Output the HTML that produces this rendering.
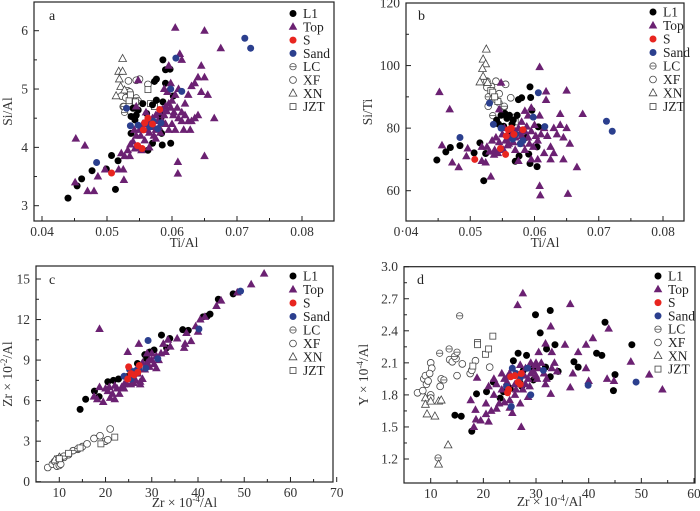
<!DOCTYPE html>
<html><head><meta charset="utf-8"><style>
html,body{margin:0;padding:0;background:#fff;}
svg{display:block;font-family:"Liberation Serif",serif;}
</style></head><body>
<svg id="chart" width="700" height="511" viewBox="0 0 700 511" xmlns="http://www.w3.org/2000/svg"></svg>
<script>
// ---------- Panel a: Si/Al vs Ti/Al ----------
const aL1=[[0.0440,3.13],[0.0454,3.34],[0.0461,3.46],[0.0477,3.60],[0.0499,3.63],[0.0513,3.28],[0.0507,3.86],[0.0517,3.77],[0.0537,4.53],[0.0543,4.47],[0.0545,4.55],[0.0540,4.67],[0.0555,4.75],[0.0548,4.64],[0.0561,4.58],[0.0570,4.73],[0.0573,5.13],[0.0576,5.17],[0.0576,4.81],[0.0586,5.50],[0.0590,5.33],[0.0590,5.10],[0.0586,4.78],[0.0581,4.58],[0.0583,4.50],[0.0584,4.24],[0.0570,4.07],[0.0563,3.95],[0.0585,4.04],[0.0598,4.07],[0.0597,5.34],[0.0602,4.88],[0.0558,4.42],[0.0537,4.24]];
const aTop=[[0.0452,4.15],[0.0466,4.03],[0.0451,3.40],[0.047,3.25],[0.048,3.25],[0.0486,3.5],[0.0497,3.62],[0.0518,3.62],[0.0525,3.62],[0.0526,3.44],[0.0527,3.85],[0.0522,3.9],[0.0532,3.95],[0.0536,4.05],[0.054,4.1],[0.0545,4.2],[0.055,4.3],[0.0555,4.35],[0.056,4.4],[0.0565,4.45],[0.057,4.5],[0.0575,4.55],[0.058,4.6],[0.0585,4.65],[0.059,4.7],[0.0595,4.75],[0.06,4.8],[0.0605,4.9],[0.061,5.0],[0.0548,4.0],[0.0553,3.95],[0.0565,4.25],[0.0575,4.3],[0.058,4.35],[0.0585,4.45],[0.059,4.4],[0.0595,4.3],[0.06,4.4],[0.0605,4.3],[0.061,4.5],[0.0615,4.45],[0.062,4.55],[0.0625,4.45],[0.063,4.45],[0.0635,4.5],[0.064,4.55],[0.0615,4.6],[0.062,4.75],[0.0625,4.9],[0.063,5.05],[0.0635,5.1],[0.064,5.2],[0.0645,4.95],[0.065,5.2],[0.0655,4.9],[0.0645,5.4],[0.0615,5.5],[0.0612,5.6],[0.0605,6.05],[0.065,6.0],[0.0675,5.7],[0.0665,4.5],[0.065,3.85],[0.0609,3.75],[0.0609,3.55],[0.0595,5.4],[0.0598,5.1],[0.0593,4.95],[0.0588,5.0],[0.0603,4.6],[0.0575,4.15],[0.0565,4.0],[0.057,4.35],[0.0555,4.4],[0.056,4.6],[0.0545,4.7],[0.0548,5.15],[0.0535,3.85],[0.0542,4.3],[0.0618,4.3],[0.0628,4.3],[0.0562,4.3],[0.0568,4.38],[0.0578,4.45],[0.0588,4.55],[0.0592,4.62],[0.0598,4.68],[0.0552,4.2],[0.0558,4.12],[0.0572,4.2],[0.0582,4.25],[0.0543,3.98],[0.0608,4.68],[0.0602,4.55]];
const aS=[[0.0507,3.56],[0.0547,4.03],[0.0554,3.98],[0.0556,4.3],[0.0558,4.42],[0.0563,4.5],[0.0581,4.65],[0.057,4.4]];
const aSand=[[0.0484,3.74],[0.0536,4.37],[0.0548,4.38],[0.0566,4.35],[0.0571,4.45],[0.0578,4.32],[0.0583,4.42],[0.0598,5.0],[0.0606,5.53],[0.0615,4.96],[0.0712,5.87],[0.0721,5.7],[0.053,4.67]];
const aLC=[[0.0526,4.7],[0.0534,4.75],[0.0538,4.85],[0.0545,4.85],[0.0548,4.8],[0.0527,4.6]];
const aXF=[[0.0522,4.88],[0.0532,4.97],[0.0535,4.95],[0.0525,4.7],[0.0533,5.14],[0.055,5.17],[0.0545,5.15],[0.0537,4.6],[0.0538,4.8],[0.0563,5.08],[0.0529,4.85]];
const aXN=[[0.0524,5.52],[0.0518,5.3],[0.0524,5.3],[0.0519,5.17],[0.0521,5.04],[0.0514,4.88],[0.0527,4.98],[0.0535,4.8]];
const aJZT=[[0.0534,4.8],[0.0544,4.78],[0.0567,4.75],[0.0563,4.99],[0.0573,4.7],[0.0536,4.9]];
const aXTicks=[0.04,0.05,0.06,0.07,0.08];
const aXTickLabels=["0.04","0.05","0.06","0.07","0.08"];
const aYTicks=[3,4,5,6];

// ---------- Panel b: Si/Ti vs Ti/Al ----------
const bL1=[[0.0448,69.8],[0.0462,72.4],[0.0469,73.8],[0.0484,74.4],[0.0506,72.1],[0.0521,63.2],[0.0515,75.3],[0.0524,71.9],[0.0541,82.6],[0.0544,81.3],[0.0548,84.1],[0.0554,84.7],[0.0557,83.1],[0.0561,84.1],[0.0565,81.3],[0.0567,82.6],[0.0575,89.1],[0.0580,89.7],[0.0593,93.2],[0.0594,89.8],[0.0596,85.7],[0.0587,77.0],[0.0591,71.7],[0.0570,69.4],[0.0576,71.1],[0.0593,68.7],[0.0604,67.7],[0.0604,74.0],[0.0606,80.4],[0.0562,78.3],[0.0552,80.6],[0.0573,84.1]];
const bTop=[[0.0452,91.5],[0.0468,86],[0.0456,74.5],[0.0472,69],[0.0482,67.5],[0.0496,73.5],[0.0494,71],[0.0518,69.5],[0.0524,69],[0.0532,64.5],[0.0526,74],[0.0518,74],[0.053,72.5],[0.0534,76],[0.0538,73],[0.054,77],[0.0545,75.5],[0.055,78],[0.0553,80],[0.0555,76],[0.056,77],[0.0565,78],[0.057,79],[0.0575,80],[0.058,82],[0.0585,85.5],[0.059,84],[0.0595,86.5],[0.0548,94.5],[0.0545,86],[0.056,75],[0.057,73],[0.0575,69.5],[0.058,75],[0.0585,73],[0.059,77],[0.0595,79],[0.06,81],[0.0605,76],[0.061,78],[0.0615,80],[0.062,77.5],[0.0625,74],[0.063,72],[0.0635,78],[0.064,81],[0.0645,77],[0.065,80],[0.0655,75],[0.064,84.5],[0.0608,99.5],[0.0618,91.7],[0.0618,89],[0.065,92],[0.0675,84.5],[0.0666,67.5],[0.0652,59],[0.0609,58.5],[0.0608,61.5],[0.0625,70],[0.0645,70],[0.0605,70],[0.0615,72],[0.0595,70],[0.0608,84],[0.063,80],[0.0585,79],[0.058,77.5],[0.057,77],[0.0562,79.5],[0.0552,73],[0.0558,74.5],[0.0567,75.5],[0.0578,78.5],[0.0588,80.5],[0.0592,75],[0.0598,74],[0.0543,72],[0.0537,71.5],[0.0602,77.5]];
const bS=[[0.0507,70],[0.0547,73.5],[0.0555,71.6],[0.0556,77.5],[0.0559,79.5],[0.0564,80],[0.0582,79.5],[0.0568,78]];
const bSand=[[0.0484,77],[0.0536,81.2],[0.0548,80],[0.0566,76.5],[0.0571,78],[0.0578,75],[0.0582,76],[0.0598,83.5],[0.0606,91.3],[0.0616,80.5],[0.0712,82.2],[0.0721,79],[0.053,88]];
const bLC=[[0.0535,84],[0.054,89],[0.0545,88],[0.0528,90],[0.0553,87]];
const bXF=[[0.0526,95],[0.0533,93.3],[0.054,95],[0.0555,94],[0.0526,93],[0.0528,87],[0.0553,86.8],[0.0563,89.7],[0.0545,91]];
const bXN=[[0.0525,105.2],[0.052,102],[0.0524,100.5],[0.0519,99],[0.052,96.5],[0.0515,94.7],[0.0527,94.5],[0.0535,90]];
const bJZT=[[0.0532,92],[0.0535,91.5],[0.0543,88.5],[0.0565,83.5],[0.057,82],[0.0538,90]];
const bXTicks=[0.04,0.05,0.06,0.07,0.08];
const bXTickLabels=["0·04","0.05","0.06","0.07","0.08"];
const bYTicks=[60,80,100,120];

// ---------- Panel c: Zr×10^-2/Al vs Zr×10^-4/Al ----------
const cL1=[[14.5,5.35],[15.7,6.1],[17.6,6.7],[18.6,6.3],[20.5,7.4],[21.7,7.5],[22.8,7.6],[24.9,7.8],[26.9,8.75],[28.9,9.1],[30.5,9.75],[32.1,10.85],[33.2,9.9],[33.9,10.6],[36.7,11.25],[37.9,11.2],[41.1,12.2],[42,12.25],[42.6,12.4],[44.4,13.5],[47.6,13.9],[28.5,9.4],[29.6,9.6]];
const cTop=[[17.5,6.3],[18.2,6.1],[18.7,7.0],[19.5,5.9],[20.5,6.7],[20.8,7.0],[21.5,6.5],[22.0,6.1],[22.5,6.9],[23.0,6.5],[23.5,7.0],[24.0,6.9],[24.5,7.3],[25.0,7.6],[25.5,7.2],[26.0,7.8],[26.5,7.5],[27.0,8.0],[27.5,7.4],[28.0,7.6],[28.5,8.3],[29.0,8.8],[29.5,8.5],[30.0,9.0],[30.5,8.7],[31.0,9.3],[31.5,9.0],[32.0,9.5],[32.5,10.2],[33.0,9.6],[33.5,10.5],[34.0,10.0],[35.5,10.6],[37.0,9.9],[37.2,10.2],[37.5,11.0],[38.5,10.4],[39.5,11.5],[40.0,11.1],[40.5,12.0],[41.5,12.2],[44.0,13.0],[45.0,13.4],[48.5,14.0],[51.5,14.6],[54.3,15.4],[18.7,11.3],[24.8,9.6],[27.2,10.2],[20.0,6.9],[26.5,8.2],[28.0,8.8],[29.0,9.5],[31.0,8.4],[30.0,9.5],[27.0,8.5],[24.0,7.2],[22.0,7.1],[21.0,6.2],[26.0,7.3],[27.5,7.2],[29.5,9.0]];
const cS=[[25.0,8.5],[25.5,8.0],[26.2,7.9],[27.0,8.1],[27.3,8.6],[24.8,7.6]];
const cSand=[[24.0,7.8],[25.2,8.3],[25.5,7.6],[26.5,8.2],[27.2,8.3],[28.7,8.4],[29.2,10.45],[31.3,9.1],[40.2,11.3],[49.2,14.1]];
const cLC=[[9.5,1.7],[11,1.9],[13,2.3],[14,2.45]];
const cXF=[[7.5,1.05],[8.5,1.3],[9,1.5],[9.5,1.15],[10,1.2],[10.3,1.3],[10.5,1.8],[11,1.8],[12,2.0],[13,2.3],[14,2.4],[15,2.6],[16,2.8],[17.5,3.2],[18.8,3.4],[20,3.0],[21,3.9],[20.5,3.1]];
const cXN=[[9,1.6],[10,1.8]];
const cJZT=[[19,2.8],[22,3.3],[14.5,2.5],[10,1.7],[12,2.1]];
const cXTicks=[10,20,30,40,50,60,70];
const cYTicks=[0,3,6,9,12,15];

// ---------- Panel d: Y×10^-4/Al vs Zr×10^-4/Al ----------
const dL1=[[29.9,2.55],[32.7,2.59],[30.8,2.38],[33.6,2.27],[32.0,2.23],[26.6,2.19],[25.7,2.12],[28.2,2.17],[27.6,2.03],[29.5,2.05],[31.8,2.06],[32.7,1.97],[34.2,2.02],[29.5,1.94],[27.0,1.91],[27.3,1.88],[25.1,1.86],[23.8,1.83],[21.9,1.92],[23.2,1.77],[20.6,1.83],[18.7,1.81],[14.6,1.61],[15.8,1.60],[17.8,1.46],[37.2,2.11],[38.0,2.06],[43.1,2.48],[41.5,2.19],[42.5,2.17],[48.2,2.27],[45.0,1.99],[44.7,1.84]];
const dTop=[[26.5,2.64],[27.5,2.75],[36.5,2.65],[32.8,2.44],[43.8,2.42],[40.8,2.33],[39.5,2.27],[38.0,2.2],[35.5,2.27],[31.8,2.28],[33.0,2.2],[30.5,2.2],[48.0,2.11],[51.5,1.99],[54.0,1.85],[43.5,1.95],[44.8,1.93],[40.0,1.93],[37.0,2.0],[36.5,1.87],[39.5,2.05],[32.8,1.81],[31.8,1.9],[27.2,1.5],[17.6,1.75],[18.2,1.5],[18.6,1.57],[18.5,1.66],[19.5,1.56],[21.0,1.55],[18.8,1.96],[20.5,1.72],[21.5,1.65],[22.0,1.8],[22.5,1.67],[23.0,1.72],[24.0,1.73],[25.0,1.75],[25.5,1.63],[26.0,1.8],[27.0,1.72],[27.5,1.85],[28.0,1.9],[28.5,1.95],[29.0,2.0],[29.5,2.02],[30.0,1.98],[30.5,2.05],[31.0,2.1],[31.5,2.0],[32.0,1.95],[33.0,2.05],[34.0,2.02],[22.5,1.9],[23.5,1.85],[24.5,1.92],[25.0,2.0],[25.5,2.05],[26.5,1.98],[27.0,2.08],[28.0,2.05],[29.0,2.1],[30.0,2.1],[22.0,1.95],[21.0,1.88],[24.0,1.95],[26.0,1.9],[28.5,1.78],[23.5,2.0],[25.0,1.68],[20.5,1.62],[33.5,2.1],[26.2,1.85],[27.8,1.98],[28.8,1.88],[30.2,1.95],[29.8,2.08],[24.6,1.97]];
const dS=[[24.6,1.82],[24.8,1.85],[25.2,1.97],[26.0,1.98],[26.6,1.92],[27.0,1.9],[27.2,2.0]];
const dSand=[[24.4,1.88],[25.3,1.69],[25.5,2.05],[26.2,2.0],[27.0,1.96],[28.4,2.05],[29.0,1.8],[31.4,2.03],[39.9,1.89],[49.0,1.92]];
const dLC=[[15.5,2.54],[11.4,1.21],[13.5,2.23],[11.7,2.19],[14.5,2.16],[15,2.2],[12.5,1.94]];
const dXF=[[7.5,1.82],[8.5,1.84],[8.7,1.95],[9.0,1.98],[9.2,1.9],[9.5,1.93],[10.0,2.1],[10.2,2.05],[10.0,1.8],[9.8,2.0],[11.8,1.88],[12.0,1.95],[13.6,2.13],[14.1,2.11],[14.8,2.14],[15.0,1.98],[16.0,2.09],[17.5,2.0],[17.8,2.03],[18.5,2.12],[21.2,2.06],[10.0,1.77]];
const dXN=[[9.0,1.77],[9.0,1.71],[9.3,1.62],[10.8,1.6],[11.5,1.74],[12.0,1.75],[13.3,1.33],[11.5,1.15],[10.0,1.74]];
const dJZT=[[18.9,2.29],[18.9,2.27],[20.4,2.18],[21.0,2.23],[21.8,2.35],[18.0,2.07]];
const dXTicks=[10,20,30,40,50,60];
const dYTicks=[1.2,1.5,1.8,2.1,2.4,2.7,3.0];
const dYTickLabels=["1.2","1.5","1.8","2.1","2.4","2.7","3.0"];

const legendLabels=["L1","Top","S","Sand","LC","XF","XN","JZT"];

const NS="http://www.w3.org/2000/svg";
const svg=document.getElementById('chart');
function mk(tag,attrs,parent){const e=document.createElementNS(NS,tag);for(const k in attrs)e.setAttribute(k,attrs[k]);(parent||svg).appendChild(e);return e;}
function lin(v0,p0,v1,p1){return v=>p0+(v-v0)*(p1-p0)/(v1-v0);}
const COL={L1:"#000",Top:"#6b2172",S:"#e8251f",Sand:"#2b3f8e"};

function marker(g,type,cx,cy){
  let e;
  if(type==="L1"||type==="S"||type==="Sand"){e=mk('circle',{cx:cx,cy:cy,r:3.5,fill:COL[type]},g);}
  else if(type==="Top"){e=mk('polygon',{points:`${cx},${cy-4.6} ${cx-4.3},${cy+3} ${cx+4.3},${cy+3}`,fill:COL.Top},g);}
  else if(type==="LC"){e=mk('g',{},g);mk('circle',{cx:cx,cy:cy,r:3.2,fill:"#fff",stroke:"#555","stroke-width":0.8},e);mk('line',{x1:cx-3.2,y1:cy,x2:cx+3.2,y2:cy,stroke:"#555","stroke-width":0.8},e);}
  else if(type==="XF"){e=mk('circle',{cx:cx,cy:cy,r:3.4,fill:"#fff",stroke:"#444","stroke-width":0.8},g);}
  else if(type==="XN"){e=mk('polygon',{points:`${cx},${cy-4.3} ${cx-3.9},${cy+2.8} ${cx+3.9},${cy+2.8}`,fill:"#fff",stroke:"#444","stroke-width":0.8},g);}
  else {e=mk('rect',{x:cx-3,y:cy-3,width:6,height:6,fill:"#fff",stroke:"#444","stroke-width":0.8},g);}
  return e;
}

function panel(p){
  const g=mk('g',{});
  
  
  const X=lin(p.xa[0],p.xa[1],p.xa[2],p.xa[3]);
  const Y=lin(p.ya[0],p.ya[1],p.ya[2],p.ya[3]);
  const f=p.frame;
  const box=mk('rect',{x:f.l,y:f.t,width:f.r-f.l,height:f.b-f.t,fill:"none",stroke:"#222","stroke-width":1.2},g);
  
  
  p.xt.forEach((v,i)=>{
    const x=X(v);
    mk('line',{x1:x,y1:f.b,x2:x,y2:f.b-5,stroke:"#222","stroke-width":1},g);
    const t=mk('text',{x:x,y:f.b+15,"text-anchor":"middle","font-size":13.5,fill:"#333"},g);
    t.textContent=p.xl?p.xl[i]:String(v);
    
    
    if(i<p.xt.length-1){const xm=X((v+p.xt[i+1])/2);mk('line',{x1:xm,y1:f.b,x2:xm,y2:f.b-3,stroke:"#222","stroke-width":1},g);}
  });
  p.yt.forEach((v,i)=>{
    const y=Y(v);
    mk('line',{x1:f.l,y1:y,x2:f.l+5,y2:y,stroke:"#222","stroke-width":1},g);
    const t=mk('text',{x:f.l-6,y:y+4.5,"text-anchor":"end","font-size":13.5,fill:"#333"},g);
    t.textContent=p.yl?p.yl[i]:String(v);
    
    
    if(i<p.yt.length-1){const ym=Y((v+p.yt[i+1])/2);mk('line',{x1:f.l,y1:ym,x2:f.l+3,y2:ym,stroke:"#222","stroke-width":1},g);}
  });
  const xt=mk('text',{x:(f.l+f.r)/2,y:p.xty,"text-anchor":"middle","font-size":13.5,fill:"#333"},g);
  xt.innerHTML=p.xtitle;
  
  
  const yt=mk('text',{x:0,y:0,"text-anchor":"middle","font-size":13.5,fill:"#333",transform:`translate(${p.ytx},${(f.t+f.b)/2}) rotate(-90)`},g);
  yt.innerHTML=p.ytitle;
  
  
  const lt=mk('text',{x:p.letter[1],y:p.letter[2],"font-size":14,fill:"#222"},g);
  lt.textContent=p.letter[0];
  
  
  const order=[["XF",p.XF],["LC",p.LC],["XN",p.XN],["JZT",p.JZT],["L1",p.L1],["Top",p.Top],["Sand",p.Sand],["S",p.S]];
  order.forEach(([name,arr])=>{
    const sg=mk('g',{},g);
    
    
    arr.forEach(d=>{
      const m=marker(sg,name,X(d[0]),Y(d[1]));
      
      
    });
  });
  const lg=mk('g',{},g);
  
  
  legendLabels.forEach((lab,i)=>{
    const y=p.leg[1]+i*p.leg[2];
    const eg=mk('g',{},lg);
    
    
    marker(eg,lab,p.leg[0],y);
    const t=mk('text',{x:p.leg[0]+10,y:y+4.5,"font-size":13.5,fill:"#222"},eg);
    t.textContent=lab;
  });
}

panel({id:'a',frame:{l:34,t:2,r:334,b:221},xa:[0.04,42,0.08,302],ya:[3,205.7,6,30.7],
  xt:aXTicks,xl:aXTickLabels,yt:aYTicks,xtitle:"Ti/Al",xty:247,ytitle:"Si/Al",ytx:12,letter:['a',49,20],
  leg:[293,13.5,13.3],L1:aL1,Top:aTop,S:aS,Sand:aSand,LC:aLC,XF:aXF,XN:aXN,JZT:aJZT});
panel({id:'b',frame:{l:406,t:3,r:684,b:221},xa:[0.04,406,0.08,663],ya:[60,190.7,120,3],
  xt:bXTicks,xl:bXTickLabels,yt:bYTicks,xtitle:"Ti/Al",xty:247,ytitle:"Si/Ti",ytx:372,letter:['b',418,20],
  leg:[653,12,13.5],L1:bL1,Top:bTop,S:bS,Sand:bSand,LC:bLC,XF:bXF,XN:bXN,JZT:bJZT});
panel({id:'c',frame:{l:36,t:266,r:333,b:482},xa:[10,59.3,70,336.7],ya:[0,481.7,15,279],
  xt:cXTicks,yt:cYTicks,xtitle:"Zr × 10<tspan dy='-5' font-size='9'>-4</tspan><tspan dy='5'>/Al</tspan>",xty:507,
  ytitle:"Zr × 10<tspan dy='-5' font-size='9'>-2</tspan><tspan dy='5'>/Al</tspan>",ytx:12,letter:['c',49,284],
  leg:[293,276,13.5],L1:cL1,Top:cTop,S:cS,Sand:cSand,LC:cLC,XF:cXF,XN:cXN,JZT:cJZT});
panel({id:'d',frame:{l:404,t:266.7,r:695,b:483},xa:[10,430.7,60,694],ya:[1.2,459,3.0,266.7],
  xt:dXTicks,yt:dYTicks,yl:dYTickLabels,xtitle:"Zr × 10<tspan dy='-5' font-size='9'>-4</tspan><tspan dy='5'>/Al</tspan>",xty:506,
  ytitle:"Y × 10<tspan dy='-5' font-size='9'>-4</tspan><tspan dy='5'>/Al</tspan>",ytx:368,letter:['d',417,284],
  leg:[658,276,13.3],L1:dL1,Top:dTop,S:dS,Sand:dSand,LC:dLC,XF:dXF,XN:dXN,JZT:dJZT});
</script>
</body></html>
